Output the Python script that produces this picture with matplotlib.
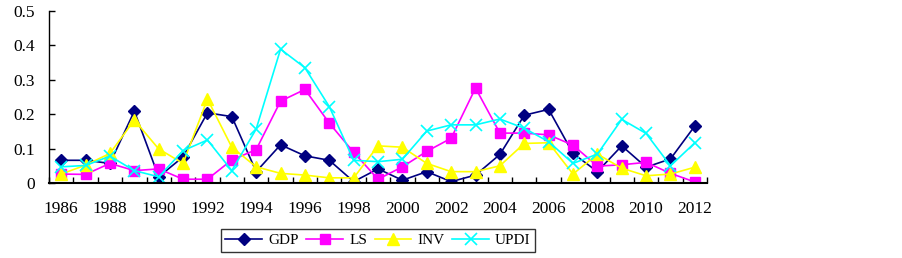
import numpy as np
import matplotlib.pyplot as plt

years = list(range(1986, 2013))
gdp = [0.066, 0.066, 0.057, 0.209, 0.018, 0.076, 0.204, 0.193, 0.033, 0.111,
       0.079, 0.066, 0.004, 0.041, 0.008, 0.033, 0.004, 0.023, 0.083, 0.197,
       0.214, 0.086, 0.033, 0.108, 0.046, 0.070, 0.166]
ls = [0.026, 0.025, 0.057, 0.036, 0.041, 0.011, 0.011, 0.067, 0.097, 0.238,
      0.272, 0.174, 0.089, 0.011, 0.047, 0.092, 0.130, 0.276, 0.145, 0.145,
      0.140, 0.110, 0.049, 0.053, 0.060, 0.028, 0.003]
inv = [0.026, 0.052, 0.086, 0.183, 0.099, 0.057, 0.244, 0.104, 0.047, 0.028,
       0.023, 0.015, 0.015, 0.108, 0.104, 0.057, 0.033, 0.033, 0.050, 0.115,
       0.117, 0.026, 0.084, 0.043, 0.021, 0.026, 0.046]
updi = [0.047, 0.051, 0.078, 0.036, 0.018, 0.094, 0.125, 0.036, 0.157, 0.389,
        0.335, 0.222, 0.066, 0.062, 0.069, 0.151, 0.169, 0.169, 0.186, 0.159,
        0.120, 0.057, 0.084, 0.185, 0.144, 0.050, 0.117]

plt.rcParams['font.family'] = ['Liberation Serif', 'DejaVu Serif']

fig = plt.figure(figsize=(9.03, 2.58), dpi=100)
ax = fig.add_axes([0.0543, 0.2907, 0.7287, 0.6667])

x = np.arange(len(years))
ax.plot(x, gdp, color='#000080', marker='D', ms=6, lw=1.2, label='GDP')
ax.plot(x, ls, color='#FF00FF', marker='s', ms=6.5, lw=1.2, label='LS')
ax.plot(x, inv, color='#FFFF00', marker='^', ms=8, lw=1.2, label='INV')
ax.plot(x, updi, color='#00FFFF', marker='x', ms=8, mew=1.2, lw=1.2, label='UPDI')

ax.set_xlim(-0.5, len(years) - 0.5)
ax.set_ylim(0, 0.5)
ax.set_yticks([0, 0.1, 0.2, 0.3, 0.4, 0.5])
ax.set_yticklabels(['0', '0.1', '0.2', '0.3', '0.4', '0.5'], fontsize=12.5)

# category ticks sit between points, labels on every other year
ax.set_xticks(np.arange(len(years) + 1) - 0.5)
ax.set_xticklabels([])
ax.set_xticks(x[::2], minor=True)
ax.set_xticklabels([str(y) for y in years[::2]], minor=True, fontsize=12.5)
ax.tick_params(axis='x', which='minor', length=0, pad=13)
ax.tick_params(axis='x', which='major', direction='in', length=4, width=1)
ax.tick_params(axis='y', direction='in', length=4, width=1, pad=10)

for s in ['top', 'right']:
    ax.spines[s].set_visible(False)
ax.spines['left'].set_linewidth(1)
ax.spines['bottom'].set_linewidth(1.5)

leg = fig.legend(loc='center', bbox_to_anchor=(0.4186, 0.068), ncol=4,
                 fontsize=11, frameon=True, fancybox=False, edgecolor='black',
                 handlelength=2.4, columnspacing=0.5, handletextpad=0.4,
                 borderpad=0.3, borderaxespad=0)
leg.get_frame().set_linewidth(1)

fig.savefig('out.png', dpi=100)
